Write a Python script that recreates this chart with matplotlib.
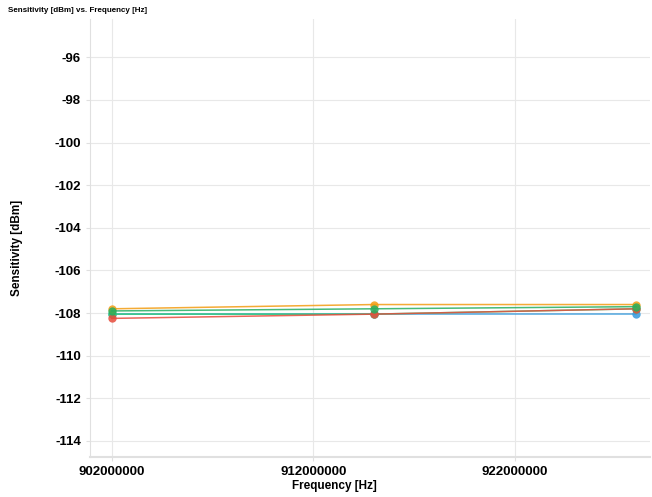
import matplotlib.pyplot as plt
import numpy as np

plt.rcParams["font.family"] = ["Liberation Sans", "DejaVu Sans"]

# ===============================
freqs = [902000000, 915000000, 928000000]
series_names = ["S1", "S2", "S3", "S4", "S5"]
series_colors = ["#3498db", "#2ecc71", "#e74c3c", "#f39c12", "#27ae60"]
blue_vals = [-108.05, -108.05, -108.05]
light_green_vals = [-108.05, -108.05, -107.8]
red_vals = [-108.25, -108.05, -107.8]
orange_vals = [-107.8, -107.6, -107.6]
green_vals = [-107.9, -107.8, -107.7]
all_vals = [blue_vals, light_green_vals, red_vals, orange_vals, green_vals]

x_ticks = [902000000, 912000000, 922000000]
y_ticks = np.arange(-114, -95, 2)

# ===============================
fig = plt.figure(figsize=(6.52, 4.97), dpi=100)
ax = fig.add_axes([0.138, 0.081, 0.859, 0.881])

for name, col, vals in zip(series_names, series_colors, all_vals):
    ax.plot(freqs, vals, color=col, lw=1.1, alpha=0.85, marker="o",
            markersize=6, markeredgewidth=0, label=name)

ax.set_xlim(900920000, 928700000)
ax.set_ylim(-114.74, -94.2)
ax.set_xticks(x_ticks)
ax.set_xticklabels([str(v) for v in x_ticks])
ax.set_yticks(y_ticks)
ax.set_yticklabels([str(v) for v in y_ticks])

ax.grid(True, color="#e8e8e8", lw=0.8)
ax.set_axisbelow(True)
for s in ["top", "right"]:
    ax.spines[s].set_visible(False)
ax.spines["left"].set_color("#e0e0e0")
ax.spines["bottom"].set_color("#e0e0e0")
ax.spines["bottom"].set_linewidth(1.5)
ax.tick_params(axis="both", colors="#e0e0e0", length=3, labelcolor="black",
               labelsize=9.5)
for lab in ax.get_xticklabels() + ax.get_yticklabels():
    lab.set_fontweight("bold")

ax.set_xlabel("Frequency [Hz]", fontsize=8.5, fontweight="bold")
ax.xaxis.set_label_coords(0.436, -0.054)
ax.set_ylabel("Sensitivity [dBm]", fontsize=8.5, fontweight="bold")
ax.yaxis.set_label_coords(-0.12, 0.478)
fig.text(0.012, 0.985, "Sensitivity [dBm] vs. Frequency [Hz]", fontsize=5.8,
         fontweight="bold", va="top", ha="left")

plt.savefig("out.png", dpi=100)
